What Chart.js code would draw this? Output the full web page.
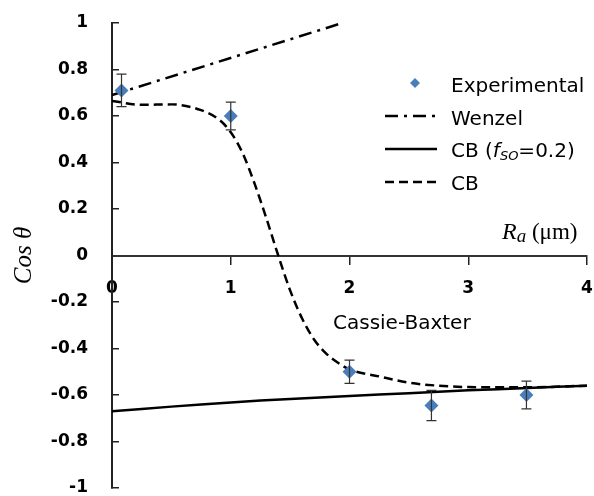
<!DOCTYPE html>
<html>
<head>
<meta charset="utf-8">
<script src="https://cdn.jsdelivr.net/npm/chart.js@4.4.0/dist/chart.umd.min.js"></script>
<style>
  html, body { margin: 0; padding: 0; background: #fff; }
  #wrap { width: 594px; height: 496px; }
</style>
</head>
<body>
<div id="wrap"><canvas id="chart" width="594" height="496"></canvas></div>
<script>
// values
const raTicks = [0, 1, 2, 3, 4];

const expRa = [0.08, 1.0, 2.0, 2.69, 3.49];
const expCos = [0.71, 0.60, -0.50, -0.645, -0.60];
const expErr = [0.07, 0.06, 0.05, 0.065, 0.06];

const wenzelRa = [0, 1.94];
const wenzelCos = [0.69, 1.0];

const cbFsoRa = [0, 0.5, 1, 1.5, 2, 2.5, 3, 3.5, 4];
const cbFsoCos = [-0.67, -0.65, -0.632, -0.617, -0.604, -0.592, -0.58, -0.57, -0.56];

const cbRa = [0, 0.25, 0.5, 0.75, 0.9, 1.0, 1.1, 1.2, 1.3, 1.4, 1.5, 1.6, 1.7, 1.8, 1.9, 2.0, 2.25, 2.5, 2.75, 3, 3.5, 4];
const cbCos = [0.665, 0.648, 0.65, 0.625, 0.585, 0.53, 0.44, 0.31, 0.16, 0.0, -0.15, -0.27, -0.36, -0.42, -0.46, -0.49, -0.52, -0.547, -0.56, -0.566, -0.567, -0.56];

const blue = '#4a7ebb';
const sans = '"DejaVu Sans", sans-serif';
const serif = '"Liberation Serif", serif';

const toXY = (xs, ys) => xs.map((x, i) => ({x: x, y: ys[i]}));

// error bars on the experimental points
const errorBars = {
  id: 'errorBars',
  afterDatasetsDraw(chart) {
    const {ctx, scales: {x, y}} = chart;
    ctx.save();
    ctx.strokeStyle = '#333';
    ctx.lineWidth = 1.2;
    expRa.forEach((ra, i) => {
      const px = x.getPixelForValue(ra);
      const top = y.getPixelForValue(expCos[i] + expErr[i]);
      const bot = y.getPixelForValue(expCos[i] - expErr[i]);
      ctx.beginPath();
      ctx.moveTo(px, top); ctx.lineTo(px, bot);
      ctx.moveTo(px - 5, top); ctx.lineTo(px + 5, top);
      ctx.moveTo(px - 5, bot); ctx.lineTo(px + 5, bot);
      ctx.stroke();
    });
    ctx.restore();
  }
};

// draws a row of text pieces, each {t, font, dy}
function richText(ctx, pieces, x, y) {
  pieces.forEach(p => {
    ctx.font = p.font;
    ctx.fillText(p.t, x, y + (p.dy || 0));
    x += ctx.measureText(p.t).width;
  });
}

const legendRows = [
  {sampleY: 83, baseY: 92, text: [{t: 'Experimental', font: '20px ' + sans}]},
  {sampleY: 116, baseY: 125, text: [{t: 'Wenzel', font: '20px ' + sans}]},
  {sampleY: 149, baseY: 157, text: [
    {t: 'CB (', font: '20px ' + sans},
    {t: 'f', font: 'italic 20px ' + sans},
    {t: 'SO', font: 'italic 13px ' + sans, dy: 3},
    {t: '=0.2)', font: '20px ' + sans}
  ]},
  {sampleY: 182, baseY: 190, text: [{t: 'CB', font: '20px ' + sans}]}
];

const annotations = {
  id: 'annotations',
  afterDraw(chart) {
    const ctx = chart.ctx;
    ctx.save();
    ctx.fillStyle = '#000';
    ctx.textBaseline = 'alphabetic';
    // legend
    chart.data.datasets.forEach((ds, i) => {
      const row = legendRows[i];
      if (ds.showLine) {
        ctx.save();
        ctx.strokeStyle = ds.borderColor;
        ctx.lineWidth = ds.borderWidth;
        ctx.setLineDash(ds.borderDash || []);
        ctx.beginPath();
        ctx.moveTo(385, row.sampleY);
        ctx.lineTo(437, row.sampleY);
        ctx.stroke();
        ctx.restore();
      } else {
        ctx.save();
        ctx.fillStyle = ds.backgroundColor;
        ctx.beginPath();
        ctx.moveTo(415, row.sampleY - 5);
        ctx.lineTo(420, row.sampleY);
        ctx.lineTo(415, row.sampleY + 5);
        ctx.lineTo(410, row.sampleY);
        ctx.closePath();
        ctx.fill();
        ctx.restore();
      }
      richText(ctx, row.text, 451, row.baseY);
    });
    // region label
    ctx.font = '20px ' + sans;
    ctx.fillText('Cassie-Baxter', 333, 329);
    // x axis title
    richText(ctx, [
      {t: 'R', font: 'italic 24px ' + serif},
      {t: 'a', font: 'italic 19px ' + serif, dy: 3},
      {t: ' (\u03bcm)', font: '23px ' + serif}
    ], 502, 239);
    ctx.restore();
  }
};

new Chart(document.getElementById('chart'), {
  type: 'scatter',
  data: {
    datasets: [
      {
        label: 'Experimental',
        data: toXY(expRa, expCos),
        pointStyle: 'rectRot',
        pointRadius: 7,
        pointHoverRadius: 7,
        backgroundColor: blue,
        borderColor: blue,
        borderWidth: 0,
        showLine: false,
        order: 0
      },
      {
        label: 'Wenzel',
        data: toXY(wenzelRa, wenzelCos),
        showLine: true,
        borderColor: '#000',
        borderWidth: 2.5,
        borderDash: [13, 6, 3, 6],
        pointRadius: 0,
        order: 1
      },
      {
        label: 'CB (fSO=0.2)',
        data: toXY(cbFsoRa, cbFsoCos),
        showLine: true,
        borderColor: '#000',
        borderWidth: 2.5,
        tension: 0.4,
        pointRadius: 0,
        order: 2
      },
      {
        label: 'CB',
        data: toXY(cbRa, cbCos),
        showLine: true,
        borderColor: '#000',
        borderWidth: 2.5,
        borderDash: [9, 5],
        cubicInterpolationMode: 'monotone',
        pointRadius: 0,
        order: 3
      }
    ]
  },
  options: {
    responsive: false,
    animation: false,
    devicePixelRatio: 1,
    layout: {padding: {top: 23, bottom: 8, left: 0, right: 1}},
    plugins: {
      legend: {display: false},
      tooltip: {enabled: false}
    },
    scales: {
      x: {
        type: 'linear',
        position: {y: 0},
        min: 0,
        max: 4,
        afterBuildTicks: (scale) => { scale.ticks = raTicks.map(v => ({value: v})); },
        afterFit: (scale) => { scale.paddingLeft = 0; scale.paddingRight = 0; },
        ticks: {
          color: '#000',
          padding: 15,
          font: {family: sans, size: 17, weight: 'bold'}
        },
        grid: {drawOnChartArea: false, drawTicks: true, tickLength: 8, color: '#222', lineWidth: 1.5},
        border: {display: true, color: '#333', width: 2}
      },
      y: {
        type: 'linear',
        position: 'left',
        min: -1,
        max: 1,
        afterFit: (scale) => { scale.width = 112; scale.paddingTop = 0; scale.paddingBottom = 0; },
        ticks: {
          stepSize: 0.2,
          color: '#000',
          padding: 31,
          font: {family: sans, size: 17, weight: 'bold', lineHeight: 1},
          callback: (v) => String(Number(v.toFixed(1)))
        },
        grid: {drawOnChartArea: false, drawTicks: true, tickLength: -7, color: '#222', lineWidth: 1.5},
        border: {display: true, color: '#222', width: 2},
        title: {
          display: true,
          text: 'Cos \u03b8',
          color: '#000',
          font: {family: serif, style: 'italic', size: 25},
          padding: {top: 9, bottom: 0}
        }
      }
    }
  },
  plugins: [errorBars, annotations]
});
</script>
</body>
</html>
